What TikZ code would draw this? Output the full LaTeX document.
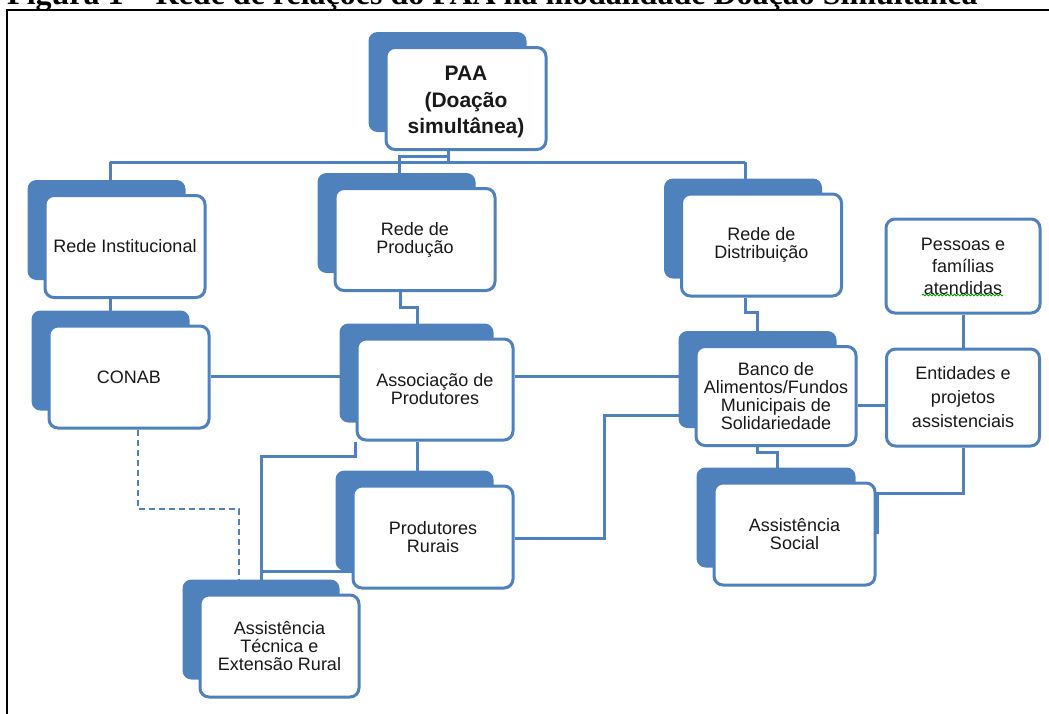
\documentclass[tikz,border=0pt]{standalone}
\usepackage{fontspec}
\setmainfont{Liberation Serif}
\setsansfont{Liberation Sans}
\usetikzlibrary{positioning,backgrounds,decorations.pathmorphing}
\definecolor{orgblue}{HTML}{4F81BD}

\begin{document}
\begin{tikzpicture}[
  x=1pt, y=-1pt,
  box/.style={draw=orgblue, line width=3pt, fill=white, rounded corners=9pt,
    minimum width=160pt, minimum height=102pt, align=center, inner sep=2pt,
    text=black!90, font=\sffamily\fontsize{18}{18}\selectfont},
  backbox/.style={fill=orgblue, rounded corners=9pt},
  link/.style={draw=orgblue, line width=3pt},
  dotlink/.style={draw=orgblue, line width=1.8pt, dash pattern=on 6pt off 4pt}
]
\useasboundingbox (0,0) rectangle (1049,713);

% frame and caption
\node[anchor=base west, inner sep=0pt, font=\rmfamily\bfseries\fontsize{32}{36}\selectfont] (caption) at (7,4) {Figura 1 – Rede de relações do PAA na modalidade Doação Simultânea};
\draw[line width=2.5pt] (1070,10) -- (7,10) -- (7,730);

% boxes
\node[box, font=\sffamily\bfseries\fontsize{21}{26.5}\selectfont] (paa) at (466,98.5) {\rule{0pt}{22pt}PAA\\(Doação\\simultânea)};
\node[box] (inst) at (125,246.5) {Rede Institucional};
\node[box] (prod) at (415,239.5) {Rede de\\Produção};
\node[box] (dist) at (761.5,245) {Rede de\\Distribuição};
\node[box, minimum width=154pt, minimum height=94pt, font=\sffamily\fontsize{18}{22}\selectfont] (pess) at (963,266) {Pessoas e\\famílias\\atendidas};
\node[box] (conab) at (129,377) {CONAB};
\node[box, minimum width=156pt, minimum height=101pt] (assoc) at (435,389.5) {Associação de\\Produtores};
\node[box, minimum height=99pt] (banco) at (776,396) {Banco de\\Alimentos/Fundos\\Municipais de\\Solidariedade};
\node[box, minimum width=153pt, minimum height=97pt, font=\sffamily\fontsize{18}{24}\selectfont] (ent) at (963,397.5) {Entidades e\\projetos\\assistenciais};
\node[box] (prodr) at (433,537) {Produtores\\Rurais};
\node[box, minimum width=159pt] (atec) at (279.5,646) {Assistência\\Técnica e\\Extensão Rural};
\node[box, minimum width=161pt] (asoc) at (794.5,534) {Assistência\\Social};

\draw[green!60!black, line width=0.8pt, decorate, decoration={snake, amplitude=0.9pt, segment length=3.5pt}] (922,295) -- (1003,295);

% bend points
\coordinate (busL) at (110,162);
\coordinate (busR) at (745,162);
\coordinate (paaJ) at (448,156);
\coordinate (prodJ) at (399,156);
\coordinate (rowA) at (0,376);
\coordinate (rowB) at (0,405);
\coordinate (stepP) at (400,307);
\coordinate (stepP2) at (417,307);
\coordinate (stepD) at (745,312);
\coordinate (stepD2) at (757,312);
\coordinate (stepB) at (757,452);
\coordinate (stepB2) at (777,452);
\coordinate (turnE) at (877,493);
\coordinate (turnR) at (604,538);
\coordinate (turnR2) at (604,415);
\coordinate (turnA2) at (261,456);
\coordinate (rowC) at (261,571);
\coordinate (turnC) at (138,509);
\coordinate (turnC2) at (239,509);

\begin{scope}[on background layer]
% connectors
\draw[link] (busL) -- (busR);
\draw[link] (busL) -- (busL |- inst.north);
\draw[link] (busR) -- (busR |- dist.north);
\draw[link] (paa.south -| paaJ) -- (paaJ |- busL);
\draw[link] (paaJ) -- (prodJ) -- (prodJ |- prod.north);
\draw[link] (inst.south -| busL) -- (busL |- conab.north);
\draw[link] (conab.east |- rowA) -- (assoc.west |- rowA);
\draw[link] (assoc.east |- rowA) -- (banco.west |- rowA);
\draw[link] (prod.south -| stepP) |- (stepP2) -- (stepP2 |- assoc.north);
\draw[link] (dist.south -| stepD) |- (stepD2) -- (stepD2 |- banco.north);
\draw[link] (banco.south -| stepB) |- (stepB2) -- (stepB2 |- asoc.north);
\draw[link] (pess) -- (ent);
\draw[link] (banco.east |- rowB) -- (ent.west |- rowB);
\draw[link] (ent.south) |- (turnE) -- (turnE |- asoc.east);
\draw[link] (prodr.east |- turnR) -- (turnR) -- (turnR2) -- (banco.west |- turnR2);
\draw[link] (assoc.south -| stepP2) -- (stepP2 |- prodr.north);
\draw[link] (assoc.south west) |- (turnA2) -- (turnA2 |- atec.north);
\draw[link] (rowC) -- (prodr.west |- rowC);
\draw[dotlink] (conab.south -| turnC) -- (turnC) -- (turnC2) -- (turnC2 |- atec.north);
% shadows
\foreach \n in {paa,inst,prod,dist,conab,assoc,banco,prodr,atec,asoc}
  \fill[backbox] ([shift={(-16,-14)}]\n.north west) rectangle ([shift={(-21,-19)}]\n.south east);
\end{scope}
\end{tikzpicture}
\end{document}
